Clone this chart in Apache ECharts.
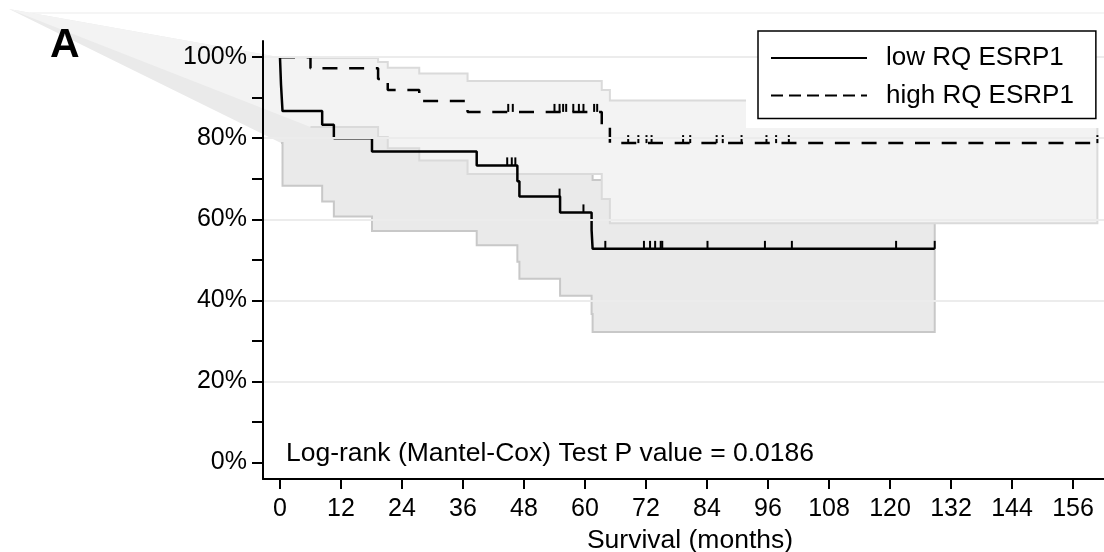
<!DOCTYPE html>
<html><head><meta charset="utf-8">
<script src="https://cdn.jsdelivr.net/npm/echarts@6/dist/echarts.min.js"></script>
<style>html,body{margin:0;padding:0;background:#fff}#c{width:1104px;height:552px}</style>
</head><body><div id="c"></div>
<script>
// ---- tick labels ----
const xTicks = [0, 12, 24, 36, 48, 60, 72, 84, 96, 108, 120, 132, 144, 156];
const yTicks = [0, 10, 20, 30, 40, 50, 60, 70, 80, 90, 100];
const yLabels = [0, 20, 40, 60, 80, 100];
const gridValues = [20, 40, 60, 80, 100];

// ---- low RQ ESRP1 (solid) ----
const lowTimes  = [0, 0.2, 0.5, 8.3, 10.6, 18.1, 38.7, 46.7, 47.1, 55.1, 61.3, 61.5, 128.8];
const lowSurv   = [100, 93.3, 86.7, 83.3, 80.0, 76.7, 73.3, 69.4, 65.6, 61.7, 57.4, 52.7, 52.7];
const lowLower  = [null, 78.8, 68.3, 64.4, 60.7, 57.1, 53.6, 49.5, 45.3, 41.1, 36.6, 32.2, 32.2];
const lowUpper  = [100, 98.3, 94.8, 92.6, 90.5, 88.2, 85.8, 83.0, 80.1, 77.0, 73.5, 69.7, 69.7];
const lowCensor = [44.7, 45.6, 46.3, 55.0, 59.7, 64.0, 71.6, 72.8, 73.8, 74.9, 75.2, 84.1, 95.4, 100.7, 121.2, 128.8];

// ---- high RQ ESRP1 (dashed) ----
const highTimes  = [0, 6.0, 19.3, 21.2, 27.4, 36.9, 63.3, 64.9, 160.8];
const highSurv   = [100, 97.3, 94.6, 91.9, 89.2, 86.5, 82.8, 78.8, 78.8];
const highLower  = [null, 82.8, 80.3, 77.5, 74.5, 71.2, 65.0, 59.0, 59.0];
const highUpper  = [100, 99.8, 98.8, 97.4, 96.0, 94.1, 91.9, 89.3, 89.3];
const highCensor = [44.9, 45.8, 54.0, 55.0, 55.7, 56.3, 57.7, 58.8, 59.7, 61.8, 62.4,
                    68.5, 70.5, 72.1, 73.1, 79.3, 80.7, 85.9, 87.1, 90.8, 95.7, 97.6, 100.1, 160.8];

// stray polygon vertex of the confidence bands (drawn outside the plot in the original)
const bandAnchor = [-53.3, 111.9];

const FONT = "'Liberation Sans', Arial, sans-serif";

function stepPath(times, vals, start) {
  const pts = [];
  for (let i = start; i < times.length; i++) {
    if (i > start) pts.push([times[i], vals[i - 1]]);
    pts.push([times[i], vals[i]]);
  }
  return pts;
}
function survAt(times, surv, t) {
  let s = surv[0];
  for (let i = 0; i < times.length; i++) if (times[i] <= t) s = surv[i];
  return s;
}
function bandRenderer(times, lower, upper, fill, stroke) {
  const up = stepPath(times, upper, 0);
  const lo = stepPath(times, lower, 1);
  const outline = up.concat(lo.slice().reverse());
  return function (params, api) {
    const poly = [bandAnchor].concat(outline).map(p => api.coord(p));
    const edge = outline.map(p => api.coord(p));
    return {
      type: 'group', children: [
        { type: 'polygon', shape: { points: poly }, style: { fill: fill, stroke: null } },
        { type: 'polyline', shape: { points: edge }, style: { fill: null, stroke: stroke, lineWidth: 2 } }
      ]
    };
  };
}
function tickRenderer(params, api) {
  const p = api.coord([api.value(0), api.value(1)]);
  return { type: 'line', shape: { x1: p[0], y1: p[1], x2: p[0], y2: p[1] - 8 },
           style: { stroke: '#000', lineWidth: 2 } };
}

const chart = echarts.init(document.getElementById('c'));
chart.setOption({
  animation: false,
  textStyle: { fontFamily: FONT },
  grid: { left: 263, right: 0, top: 41, bottom: 73, containLabel: false, outerBoundsMode: 'none' },
  xAxis: {
    type: 'value', min: -3.34, max: 162.1, z: 6,
    axisLine: { show: true, onZero: false, lineStyle: { color: '#000', width: 2 } },
    axisTick: { show: true, customValues: xTicks, length: 10, lineStyle: { color: '#000', width: 2 } },
    axisLabel: { customValues: xTicks, fontSize: 25, color: '#000', margin: 18, lineHeight: 25, fontFamily: FONT },
    splitLine: { show: false },
    name: 'Survival (months)', nameLocation: 'middle', nameGap: 47,
    nameTextStyle: { fontSize: 26.5, color: '#000', lineHeight: 26, padding: [0, 0, 0, 13], fontFamily: FONT }
  },
  yAxis: {
    type: 'value', min: -4.1, max: 104, z: 6,
    axisLine: { show: true, onZero: false, lineStyle: { color: '#000', width: 2 } },
    axisTick: { show: true, customValues: yTicks, length: 11, lineStyle: { color: '#000', width: 2 } },
    axisLabel: { customValues: yLabels, formatter: '{value}%', fontSize: 25, color: '#000', margin: 16, fontFamily: FONT },
    splitLine: { show: false }
  },
  legend: {
    orient: 'vertical', left: 758, top: 31, z: 10,
    backgroundColor: '#fff', borderColor: '#000', borderWidth: 1.5,
    padding: [14, 22, 10, 12], itemGap: 11.5, itemWidth: 96, itemHeight: 14,
    selectedMode: false,
    itemStyle: { color: 'rgba(0,0,0,0)', borderColor: 'rgba(0,0,0,0)', borderWidth: 0 },
    lineStyle: { width: 2, color: '#000' },
    textStyle: { fontSize: 26, color: '#000', lineHeight: 26, padding: [0, 0, 0, 14], fontFamily: FONT },
    data: [{ name: 'low RQ ESRP1' }, { name: 'high RQ ESRP1', lineStyle: { type: [12, 6], width: 2, color: '#000' } }]
  },
  graphic: [
    { type: 'line', z: 0, shape: { x1: 30, y1: 13, x2: 1104, y2: 13 }, style: { stroke: '#f2f2f2', lineWidth: 1.5 } },
    { type: 'rect', z: 5, shape: { x: 746, y: 23, width: 358, height: 105 }, style: { fill: '#fff' } },
    { type: 'text', z: 5, x: 50, y: 45.5, style: { text: 'A', fontSize: 41, fontWeight: 'bold', fontFamily: FONT, fill: '#000', verticalAlign: 'middle', align: 'left' } },
    { type: 'text', z: 5, x: 286, y: 454, style: { text: 'Log-rank (Mantel-Cox) Test P value = 0.0186', fontSize: 26.5, fontFamily: FONT, fill: '#000', verticalAlign: 'middle', align: 'left' } }
  ],
  series: [
    { type: 'line', name: 'grid', data: [], z: 1, silent: true,
      markLine: { silent: true, symbol: 'none', label: { show: false },
        lineStyle: { color: '#ececec', width: 2, type: 'solid' },
        data: gridValues.map(v => ({ yAxis: v })) } },
    { type: 'custom', name: 'lowCI', z: 2, clip: false, silent: true, data: [[0, 0]],
      renderItem: bandRenderer(lowTimes, lowLower, lowUpper, '#eaeaea', '#c8c8c8') },
    { type: 'custom', name: 'highCI', z: 3, clip: false, silent: true, data: [[0, 0]],
      renderItem: bandRenderer(highTimes, highLower, highUpper, '#f3f3f3', '#dadada') },
    { type: 'line', name: 'low RQ ESRP1', z: 4, step: 'end', symbol: 'none',
      lineStyle: { color: '#000', width: 2.5, type: 'solid' }, itemStyle: { color: '#000' },
      data: lowTimes.map((t, i) => [t, lowSurv[i]]) },
    { type: 'line', name: 'high RQ ESRP1', z: 4, step: 'end', symbol: 'none',
      lineStyle: { color: '#000', width: 2.5, type: [15, 11.7] }, itemStyle: { color: '#000' },
      data: highTimes.map((t, i) => [t, highSurv[i]]) },
    { type: 'custom', name: 'lowCensor', z: 4, silent: true, renderItem: tickRenderer,
      data: lowCensor.map(t => [t, survAt(lowTimes, lowSurv, t)]) },
    { type: 'custom', name: 'highCensor', z: 4, silent: true, renderItem: tickRenderer,
      data: highCensor.map(t => [t, survAt(highTimes, highSurv, t)]) }
  ]
});
</script></body></html>
